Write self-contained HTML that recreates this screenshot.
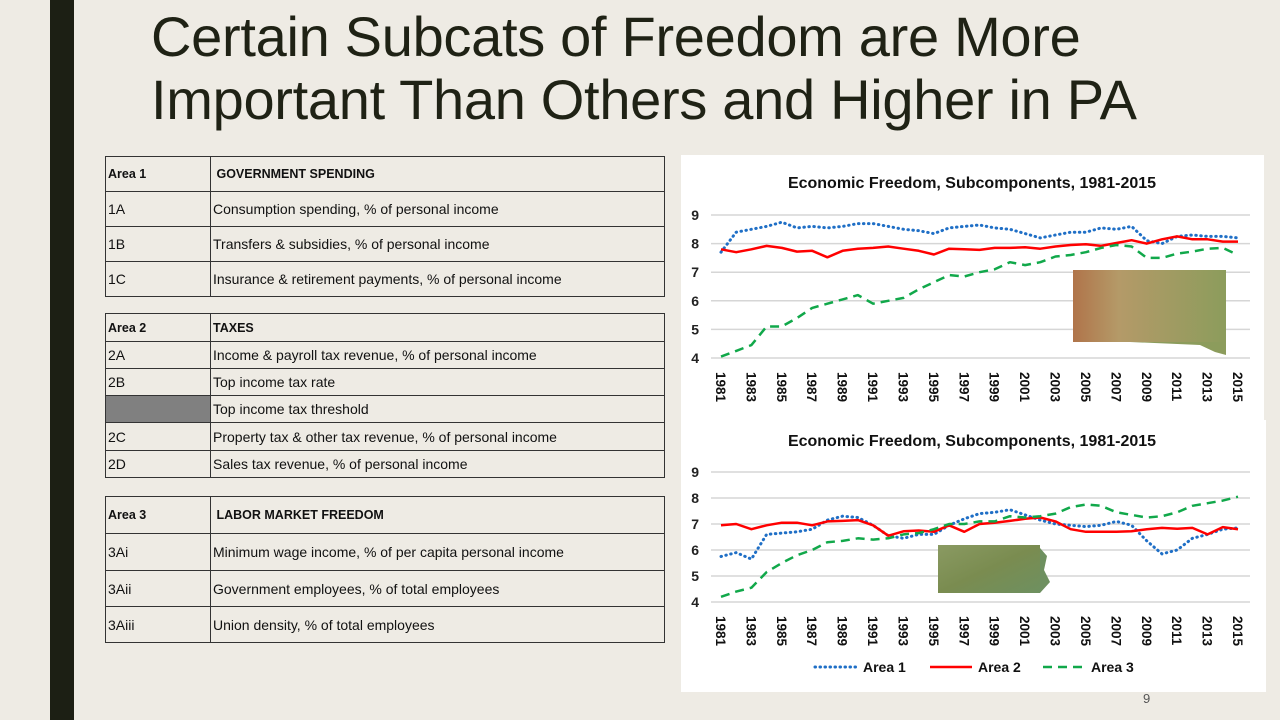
<!DOCTYPE html>
<html><head><meta charset="utf-8">
<style>
body{margin:0;width:1280px;height:720px;background:#eeebe4;position:relative;overflow:hidden;font-family:"Liberation Sans",sans-serif}
.bar{position:absolute;left:50px;top:0;width:24px;height:720px;background:#1c1f14}
.title{position:absolute;left:151px;top:5px;font-size:56px;line-height:63px;color:#1f2215;font-weight:normal;margin:0;letter-spacing:-0.3px}
.tbl{position:absolute;left:105px;width:560px;border-collapse:collapse;font-size:14px;color:#111}
.tbl td{border:1.5px solid #333;padding:0 0 0 2px;vertical-align:middle}
.tbl td:first-child{width:102px}
.b{font-weight:bold;font-size:12.5px}
.panel{position:absolute;background:#fff}
svg text{font-family:"Liberation Sans",sans-serif}
</style></head><body>
<div class="bar"></div>
<h1 class="title">Certain Subcats of Freedom are More<br>Important Than Others and Higher in PA</h1>

<table class="tbl" style="top:156px">
<tr style="height:35px"><td class="b">Area 1</td><td class="b">&nbsp;GOVERNMENT SPENDING</td></tr>
<tr style="height:35px"><td>1A</td><td>Consumption spending, % of personal income</td></tr>
<tr style="height:35px"><td>1B</td><td>Transfers &amp; subsidies, % of personal income</td></tr>
<tr style="height:35px"><td>1C</td><td>Insurance &amp; retirement payments, % of personal income</td></tr>
</table>
<table class="tbl" style="top:313px">
<tr style="height:28px"><td class="b">Area 2</td><td class="b">TAXES</td></tr>
<tr style="height:27px"><td>2A</td><td>Income &amp; payroll tax revenue, % of personal income</td></tr>
<tr style="height:27px"><td>2B</td><td>Top income tax rate</td></tr>
<tr style="height:27px"><td style="background:#808080"></td><td>Top income tax threshold</td></tr>
<tr style="height:28px"><td>2C</td><td>Property tax &amp; other tax revenue, % of personal income</td></tr>
<tr style="height:27px"><td>2D</td><td>Sales tax revenue, % of personal income</td></tr>
</table>
<table class="tbl" style="top:496px">
<tr style="height:37px"><td class="b">Area 3</td><td class="b">&nbsp;LABOR MARKET FREEDOM</td></tr>
<tr style="height:37px"><td>3Ai</td><td>Minimum wage income, % of per capita personal income</td></tr>
<tr style="height:36px"><td>3Aii</td><td>Government employees, % of total employees</td></tr>
<tr style="height:36px"><td>3Aiii</td><td>Union density, % of total employees</td></tr>
</table>

<div class="panel" style="left:681px;top:155px;width:583px;height:265px"></div>
<div class="panel" style="left:681px;top:420px;width:585px;height:272px"></div>
<div style="position:absolute;left:1143px;top:691px;font-size:13px;color:#555">9</div>

<svg id="svg" width="1280" height="720" style="position:absolute;left:0;top:0">
<defs>
<linearGradient id="sdmap" x1="0" y1="0" x2="1" y2="0"><stop offset="0" stop-color="#b0744a"/><stop offset="0.3" stop-color="#b49a68"/><stop offset="1" stop-color="#8c9c5c"/></linearGradient>
<linearGradient id="pamap" x1="0" y1="0" x2="1" y2="1"><stop offset="0" stop-color="#8a9a62"/><stop offset="0.5" stop-color="#7a8c50"/><stop offset="1" stop-color="#6e9060"/></linearGradient>
</defs>
<rect x="1073" y="270" width="153" height="72" fill="url(#sdmap)"/>
<path d="M1130 342 L1226 342 L1226 355 L1215 352 L1200 345 Z" fill="#8c9c5c"/>
<rect x="938" y="545" width="102" height="48" fill="url(#pamap)"/>
<path d="M1040 548 L1047 556 L1044 570 L1050 582 L1040 593 Z" fill="#6e9060"/>
</svg>

<script>
const years = [];
for (let y = 1981; y <= 2015; y++) years.push(y);
const yTicks = [4,5,6,7,8,9];
const legendLabels = ["Area 1","Area 2","Area 3"];
const sdArea1 = [7.7,8.4,8.5,8.6,8.75,8.55,8.6,8.55,8.6,8.7,8.7,8.6,8.5,8.45,8.35,8.55,8.6,8.65,8.55,8.5,8.35,8.2,8.3,8.4,8.4,8.55,8.5,8.6,8.1,8.0,8.25,8.3,8.25,8.25,8.2];
const sdArea2 = [7.8,7.7,7.8,7.92,7.85,7.72,7.75,7.52,7.75,7.82,7.85,7.9,7.82,7.75,7.62,7.82,7.8,7.78,7.85,7.85,7.87,7.82,7.9,7.95,7.98,7.92,8.02,8.12,8.0,8.15,8.25,8.15,8.15,8.07,8.07];
const sdArea3 = [4.05,4.25,4.45,5.1,5.1,5.4,5.75,5.9,6.05,6.2,5.9,6.0,6.1,6.4,6.65,6.9,6.85,7.0,7.1,7.35,7.25,7.35,7.55,7.6,7.7,7.85,7.95,7.9,7.5,7.5,7.65,7.72,7.82,7.85,7.6];
const paArea1 = [5.75,5.9,5.65,6.6,6.65,6.7,6.8,7.15,7.3,7.25,6.95,6.55,6.45,6.6,6.6,6.95,7.2,7.4,7.45,7.55,7.35,7.15,7.0,6.95,6.9,6.95,7.1,6.95,6.35,5.85,6.0,6.45,6.6,6.8,6.85];
const paArea2 = [6.95,7.0,6.8,6.95,7.05,7.05,6.95,7.1,7.12,7.15,6.95,6.55,6.72,6.75,6.7,6.95,6.7,7.0,7.05,7.12,7.2,7.25,7.1,6.8,6.7,6.7,6.7,6.72,6.8,6.85,6.82,6.85,6.6,6.88,6.8];
const paArea3 = [4.2,4.4,4.55,5.15,5.5,5.8,6.0,6.3,6.35,6.45,6.4,6.45,6.6,6.65,6.8,7.0,7.0,7.1,7.1,7.3,7.25,7.3,7.4,7.65,7.75,7.7,7.45,7.35,7.25,7.3,7.45,7.7,7.8,7.9,8.05];

const NS = "http://www.w3.org/2000/svg";
const svg = document.getElementById('svg');
const styles = [
  {stroke:"#1f6fc6", dash:"0.5 4.5", cap:"round", w:3},
  {stroke:"#ff0000", dash:"", cap:"butt", w:2.5},
  {stroke:"#11a84a", dash:"9 6", cap:"butt", w:2.5}
];
function mk(tag, attrs){ const e=document.createElementNS(NS,tag); for(const k in attrs) e.setAttribute(k,attrs[k]); svg.insertBefore(e, null); return e; }

function chart(cfg, series, chartName){
  const xs = i => cfg.x0 + (cfg.x1-cfg.x0)*i/(years.length-1);
  const ys = v => cfg.yTop + (cfg.yBot-cfg.yTop)*(9-v)/5;
  const t = mk('text',{x:cfg.titleX,y:cfg.titleY,'font-size':16,'font-weight':'bold','text-anchor':'middle',fill:'#111'});
  t.textContent = "Economic Freedom, Subcomponents, 1981-2015";
  
  
  yTicks.forEach(v=>{
    const g = mk('line',{x1:cfg.gx0,x2:cfg.gx1,y1:ys(v),y2:ys(v),stroke:'#d6d6d6','stroke-width':1.5});
    
    
    const l = mk('text',{x:cfg.gx0-12,y:ys(v)+5,'font-size':14,'font-weight':'bold','text-anchor':'end',fill:'#222'});
    l.textContent = v;
    
    
  });
  years.forEach((yr,i)=>{
    if (i%2) return;
    const x = xs(i), y = cfg.yBot+14;
    const l = mk('text',{x:x,y:y,'font-size':13.5,'font-weight':'bold','text-anchor':'start',fill:'#111',transform:`rotate(90 ${x} ${y})`,dy:'5'});
    l.textContent = yr;
    
    
  });
  series.forEach((s,k)=>{
    const d = s.map((v,i)=>(i?'L':'M')+xs(i).toFixed(1)+' '+ys(v).toFixed(1)).join(' ');
    const p = mk('path',{d:d,fill:'none',stroke:styles[k].stroke,'stroke-width':styles[k].w,'stroke-dasharray':styles[k].dash,'stroke-linecap':styles[k].cap,'stroke-linejoin':'round'});
    
    
  });
}
chart({x0:721,x1:1238,gx0:711,gx1:1250,yTop:215,yBot:358,titleX:972,titleY:188}, [sdArea1,sdArea2,sdArea3], 'sd-chart');
chart({x0:721,x1:1238,gx0:711,gx1:1250,yTop:472,yBot:602,titleX:972,titleY:446}, [paArea1,paArea2,paArea3], 'pa-chart');
const legX = [815, 930, 1043];
legendLabels.forEach((lab,k)=>{
  const y = 667;
  const ln = mk('line',{x1:legX[k],x2:legX[k]+42,y1:y,y2:y,stroke:styles[k].stroke,'stroke-width':styles[k].w,'stroke-dasharray':styles[k].dash,'stroke-linecap':styles[k].cap});
  
  
  const t = mk('text',{x:legX[k]+48,y:y+5,'font-size':14,'font-weight':'bold',fill:'#111'});
  t.textContent = lab;
  
  
});
svg.querySelectorAll('rect, path[fill]').forEach(e=>{ if(e.getAttribute('fill')!=='none') svg.appendChild(e); });
</script>
</body></html>
